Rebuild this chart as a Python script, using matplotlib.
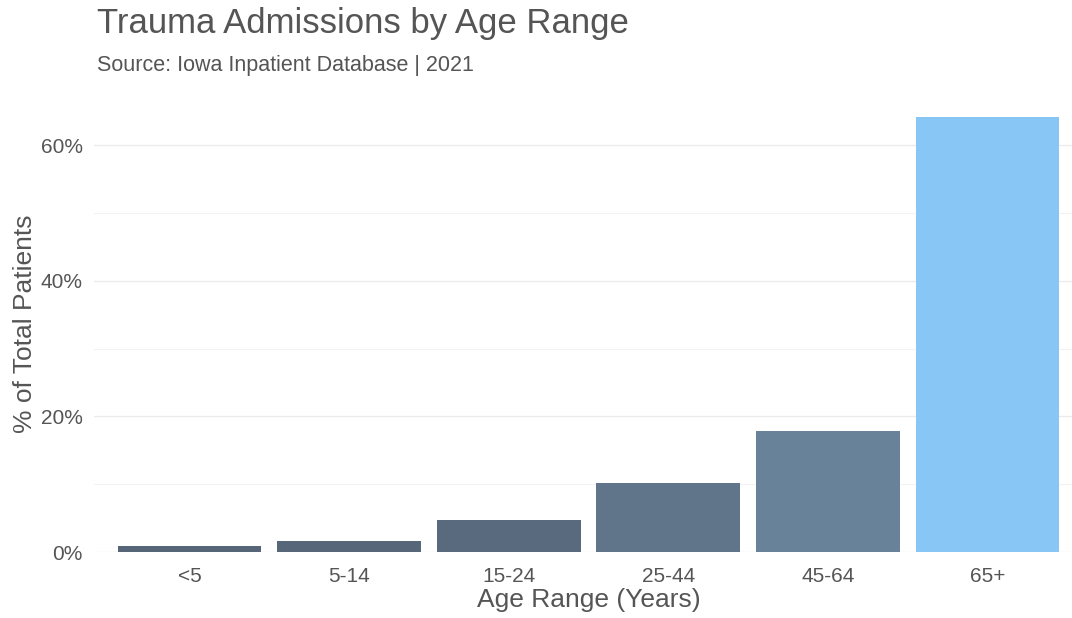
import matplotlib
matplotlib.use("Agg")
import matplotlib.pyplot as plt
from matplotlib.ticker import FuncFormatter

ages = ['<5', '5-14', '15-24', '25-44', '45-64', '65+']
pct = [0.9, 1.6, 4.7, 10.2, 17.9, 64.2]
colors = ['#566578', '#576679', '#5a6a7e', '#607589', '#678299', '#88c6f5']

plt.rcParams['font.family'] = ['Liberation Sans', 'DejaVu Sans']

fig = plt.figure(figsize=(10.72, 6.18), dpi=100)
# panel slightly wider than the picture, as in the reference crop
ax = fig.add_axes([94/1072, 1 - 552/618, (1083 - 94)/1072, (552 - 95)/618])

x = list(range(len(ages)))
ax.bar(x, pct, width=0.9, color=colors)

ax.set_xlim(-0.6, 5.6)
ax.set_ylim(0, max(pct) * 1.05)
ax.set_yticks([0, 20, 40, 60])
ax.set_yticks([10, 30, 50], minor=True)
ax.yaxis.set_major_formatter(FuncFormatter(lambda v, p: f'{v:.0f}%'))
ax.set_xticks(x)
ax.set_xticklabels(ages)

ax.grid(axis='y', which='major', color='#ebebeb', lw=1.0)
ax.grid(axis='y', which='minor', color='#f3f3f3', lw=0.8)
ax.set_axisbelow(True)
for s in ax.spines.values():
    s.set_visible(False)
ax.tick_params(axis='both', which='both', length=0, labelsize=15, labelcolor='#555555')
ax.tick_params(axis='x', pad=11)
ax.tick_params(axis='y', pad=8)

ax.set_xlabel('Age Range (Years)', fontsize=19, color='#555555', labelpad=1)
ax.set_ylabel('% of Total Patients', fontsize=19, color='#555555', labelpad=3)

fig.text(97/1072, 1 - 23/618, 'Trauma Admissions by Age Range', fontsize=25,
         color='#555555', va='center', ha='left')
fig.text(97/1072, 1 - 65/618, 'Source: Iowa Inpatient Database | 2021', fontsize=15.5,
         color='#555555', va='center', ha='left')

fig.savefig('out.png', dpi=100)
